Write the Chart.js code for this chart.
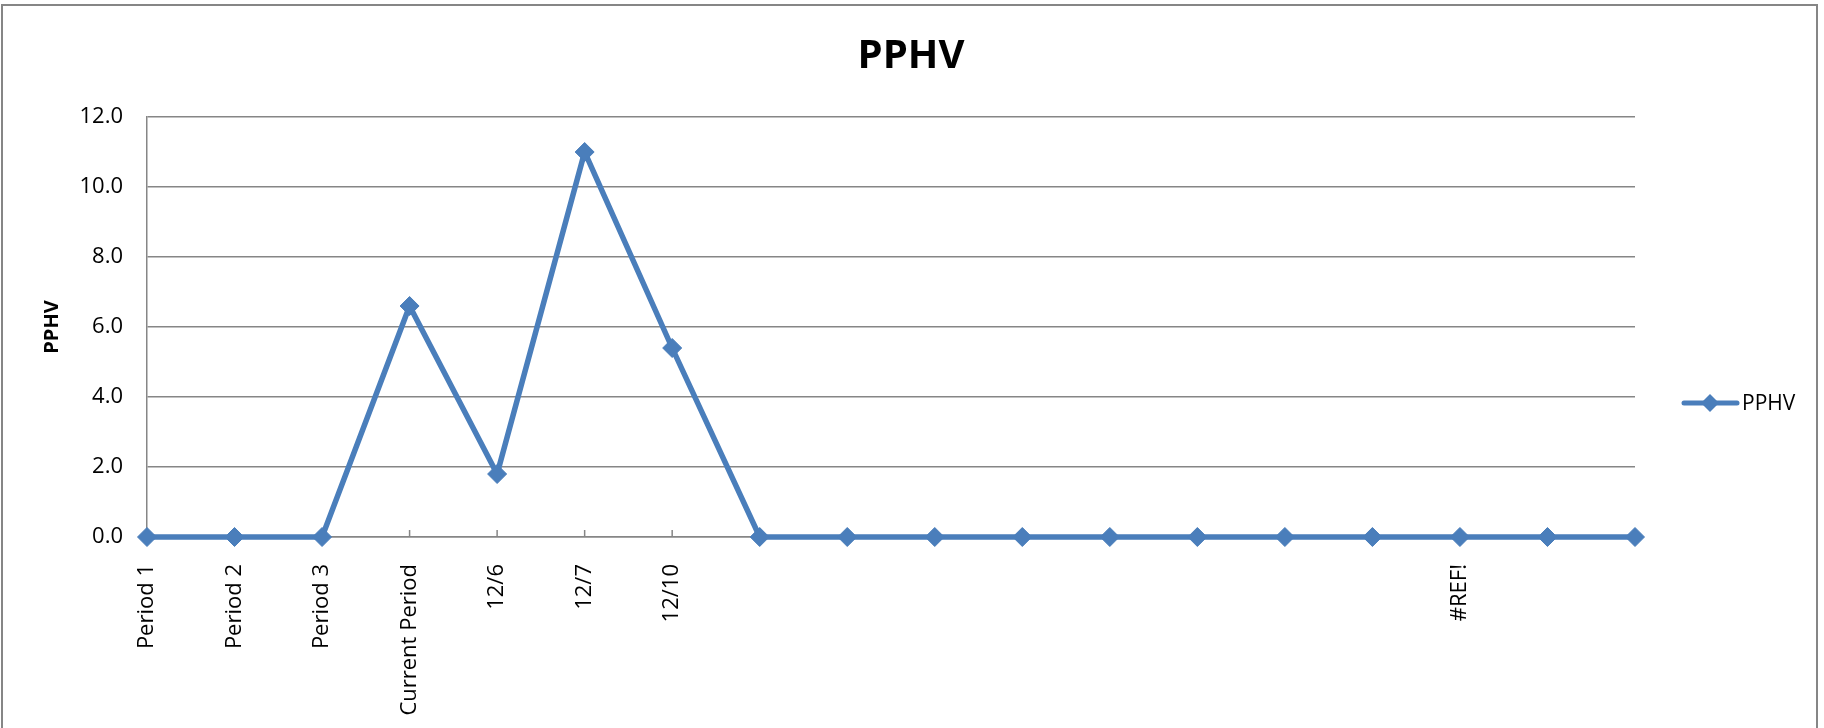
<!DOCTYPE html>
<html>
<head>
<meta charset="utf-8">
<title>PPHV</title>
<script src="https://cdn.jsdelivr.net/npm/chart.js@4.4.1/dist/chart.umd.min.js"></script>
<style>
  html, body { margin: 0; padding: 0; background: #ffffff; }
  #grafico { display: block; }
</style>
</head>
<body>
<canvas id="grafico" width="1824" height="728"></canvas>
<script>
// Dados do gráfico
const categorias = ['Period 1', 'Period 2', 'Period 3', 'Current Period', '12/6', '12/7', '12/10',
    '', '', '', '', '', '', '', '', '#REF!', '', ''];
const valoresPPHV = [0, 0, 0, 6.6, 1.8, 11.0, 5.4, 0, 0, 0, 0, 0, 0, 0, 0, 0, 0, 0];
const ticksY = [0, 2, 4, 6, 8, 10, 12];
const tituloGrafico = 'PPHV';

const azul = '#4A7EBB';
const cinza = '#868686';
const fonte = '"Open Sans", "Liberation Sans", sans-serif';

// moldura e título (centrado na figura inteira, como no Excel)
const moldura = {
    id: 'moldura',
    beforeDraw(chart) {
        const ctx = chart.ctx;
        ctx.save();
        ctx.fillStyle = '#ffffff';
        ctx.fillRect(0, 0, chart.width, chart.height);
        ctx.strokeStyle = cinza;
        ctx.lineWidth = 2;
        ctx.strokeRect(2, 5, 1815, 740);
        ctx.fillStyle = '#000000';
        ctx.font = 'bold 40px ' + fonte;
        ctx.textAlign = 'center';
        ctx.textBaseline = 'alphabetic';
        ctx.fillText(tituloGrafico, 911, 68);
        ctx.restore();
    }
};

// pequenas marcas de divisão no eixo X (para dentro da área)
const marcasX = {
    id: 'marcasX',
    beforeDatasetsDraw(chart) {
        const x = chart.scales.x, y = chart.scales.y;
        const ctx = chart.ctx;
        const base = y.getPixelForValue(0);
        ctx.save();
        ctx.strokeStyle = cinza;
        ctx.lineWidth = 1.5;
        x.ticks.forEach((t, i) => {
            const px = x.getPixelForTick(i);
            ctx.beginPath();
            ctx.moveTo(px, base);
            ctx.lineTo(px, base - 7);
            ctx.stroke();
        });
        ctx.restore();
    }
};

// legenda à direita
const legenda = {
    id: 'legenda',
    afterDraw(chart) {
        const ctx = chart.ctx;
        const ds = chart.data.datasets[0];
        const yMeio = 403;
        ctx.save();
        ctx.strokeStyle = azul;
        ctx.lineWidth = 5;
        ctx.lineCap = 'round';
        ctx.beginPath();
        ctx.moveTo(1684, yMeio);
        ctx.lineTo(1737, yMeio);
        ctx.stroke();
        ctx.fillStyle = azul;
        ctx.beginPath();
        ctx.moveTo(1710, yMeio - 9);
        ctx.lineTo(1719, yMeio);
        ctx.lineTo(1710, yMeio + 9);
        ctx.lineTo(1701, yMeio);
        ctx.closePath();
        ctx.fill();
        ctx.fillStyle = '#000000';
        ctx.font = '21px ' + fonte;
        ctx.textBaseline = 'middle';
        ctx.textAlign = 'left';
        ctx.fillText(ds.label, 1742, yMeio + 1);
        ctx.restore();
    }
};

new Chart(document.getElementById('grafico'), {
    type: 'line',
    data: {
        labels: categorias,
        datasets: [{
            label: 'PPHV',
            data: valoresPPHV,
            borderColor: azul,
            backgroundColor: azul,
            borderWidth: 5.5,
            pointStyle: 'rectRot',
            pointRadius: 9.5,
            pointBorderWidth: 1,
            pointBackgroundColor: azul,
            pointBorderColor: azul,
            tension: 0,
            fill: false,
            clip: false
        }]
    },
    options: {
        responsive: false,
        devicePixelRatio: 1,
        animation: false,
        layout: { padding: { left: 0, right: 189, top: 117, bottom: 0 } },
        plugins: {
            legend: { display: false },
            tooltip: { enabled: false },
            title: { display: false }
        },
        scales: {
            x: {
                offset: false,
                grid: { display: false, drawTicks: false },
                border: { display: true, color: cinza, width: 1.5 },
                ticks: {
                    autoSkip: false,
                    maxRotation: 90,
                    minRotation: 90,
                    padding: 27,
                    color: '#000000',
                    font: { family: fonte, size: 22 }
                },
                afterFit(escala) { escala.height = 191; }
            },
            y: {
                min: 0,
                max: 12,
                afterBuildTicks(escala) { escala.ticks = ticksY.map(v => ({ value: v })); },
                grid: { color: cinza, lineWidth: 1.5, drawTicks: false },
                border: { display: true, color: cinza, width: 1.5 },
                ticks: {
                    padding: 24,
                    color: '#000000',
                    font: { family: fonte, size: 22 },
                    callback: v => Number(v).toFixed(1)
                },
                title: {
                    display: true,
                    text: 'PPHV',
                    color: '#000000',
                    font: { family: fonte, size: 20, weight: 'bold', lineHeight: 1.2 },
                    padding: { top: 40, bottom: 0 }
                },
                afterFit(escala) { escala.width = 147; }
            }
        }
    },
    plugins: [moldura, marcasX, legenda]
});
</script>
</body>
</html>
